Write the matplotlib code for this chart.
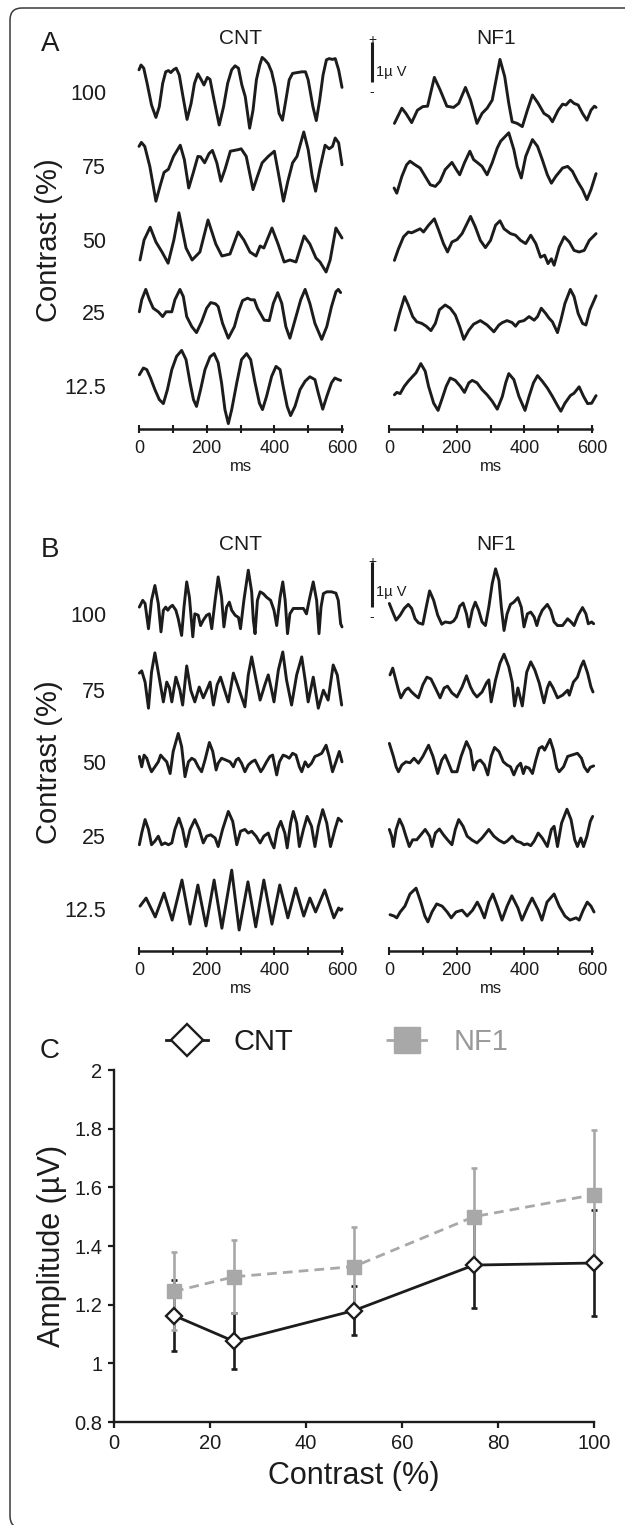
import matplotlib
matplotlib.use('Agg')
import matplotlib.pyplot as plt
from matplotlib.patches import FancyBboxPatch

plt.rcParams['font.family'] = ['Liberation Sans', 'DejaVu Sans']

# ---------------- data ----------------
row_labels = ['100', '75', '50', '25', '12.5']
tick_vals = [0, 200, 400, 600]
minor_ticks = [100, 300, 500]

# Panel A, CNT (time in ms, amplitude in microvolts relative to row baseline)
a_cnt_100_t = [0,6,14,24,37,50,60,70,79,87,94,102,110,119,130,142,154,164,174,184,192,202,210,222,237,250,262,274,284,294,304,314,327,337,347,357,364,372,382,392,402,414,424,434,444,454,467,482,492,500,514,524,534,544,554,562,572,580,590,600]
a_cnt_100_v = [0.63,0.75,0.67,0.29,-0.25,-0.56,-0.29,0.29,0.58,0.61,0.56,0.63,0.67,0.50,-0.04,-0.61,-0.21,0.29,0.53,0.38,0.25,0.44,0.39,-0.13,-0.75,-0.29,0.29,0.63,0.73,0.67,0.25,-0.04,-0.83,-0.38,0.38,0.75,0.94,0.88,0.78,0.58,0.21,-0.46,-0.63,-0.13,0.38,0.54,0.56,0.58,0.58,0.38,-0.29,-0.64,-0.13,0.50,0.88,0.91,0.89,0.91,0.63,0.19]
a_cnt_75_t = [0,7,17,32,50,62,74,87,102,122,134,147,160,174,182,194,207,217,230,242,254,270,282,294,302,317,337,350,364,382,400,412,427,440,454,467,487,500,512,522,534,550,562,572,580,590,600]
a_cnt_75_v = [0.54,0.64,0.54,0.04,-0.83,-0.46,-0.11,-0.03,0.29,0.57,0.21,-0.50,-0.13,0.29,0.28,0.13,0.36,0.44,0.13,-0.33,-0.04,0.42,0.44,0.46,0.48,0.29,-0.54,-0.21,0.13,0.29,0.42,-0.13,-0.83,-0.33,0.13,0.29,0.90,0.46,-0.21,-0.58,-0.04,0.57,0.48,0.54,0.75,0.63,0.08]
a_cnt_50_t = [3,15,33,50,68,86,103,118,139,157,180,204,227,245,269,293,310,328,346,358,369,393,411,429,446,464,488,505,523,535,553,565,582,600]
a_cnt_50_v = [-0.45,0.05,0.37,0.00,-0.25,-0.53,0.05,0.73,-0.15,-0.45,-0.25,0.55,-0.05,-0.35,-0.30,0.25,0.05,-0.25,-0.35,-0.10,-0.15,0.35,-0.05,-0.50,-0.45,-0.50,0.15,-0.05,-0.40,-0.50,-0.75,-0.45,0.35,0.10]
a_cnt_25_t = [1,8,20,31,42,57,70,80,87,97,106,121,131,141,156,170,185,200,212,226,234,247,264,282,294,306,321,331,341,350,370,385,397,410,422,434,446,461,478,491,505,520,540,555,569,582,589,596]
a_cnt_25_v = [0.08,0.38,0.64,0.38,0.17,0.08,-0.04,0.08,0.08,0.08,0.38,0.64,0.46,-0.04,-0.29,-0.44,-0.17,0.17,0.31,0.28,0.21,-0.21,-0.58,-0.29,0.08,0.36,0.42,0.38,0.38,0.17,-0.13,-0.14,0.29,0.56,0.29,-0.29,-0.58,-0.13,0.38,0.64,0.29,-0.21,-0.61,-0.29,0.21,0.58,0.64,0.56]
a_cnt_12_t = [1,13,23,34,47,60,72,84,97,111,126,139,151,161,170,182,195,210,222,234,244,254,264,274,289,303,318,330,343,356,365,377,392,405,417,426,438,448,461,476,491,505,520,530,543,555,569,579,589,596]
a_cnt_12_v = [0.33,0.50,0.46,0.25,-0.04,-0.29,-0.39,-0.04,0.46,0.79,0.94,0.71,0.13,-0.29,-0.46,-0.04,0.46,0.78,0.86,0.63,0.13,-0.54,-0.89,-0.54,0.13,0.71,0.86,0.71,0.13,-0.38,-0.54,-0.21,0.29,0.54,0.46,0.04,-0.46,-0.69,-0.46,-0.04,0.17,0.28,0.21,-0.13,-0.53,-0.21,0.13,0.25,0.21,0.19]

# Panel A, NF1
a_nf1_100_t = [16,38,50,67,84,100,114,134,151,171,191,206,226,241,260,275,290,305,328,342,354,364,379,394,409,424,441,458,473,483,500,513,523,536,547,559,572,585,597,607,612]
a_nf1_100_v = [-0.71,-0.33,-0.46,-0.69,-0.38,-0.29,-0.28,0.44,0.13,-0.28,-0.31,-0.21,0.19,-0.13,-0.71,-0.46,-0.33,-0.13,0.89,0.46,-0.21,-0.67,-0.71,-0.79,-0.38,0.00,-0.21,-0.46,-0.54,-0.67,-0.38,-0.23,-0.25,-0.13,-0.21,-0.25,-0.46,-0.63,-0.38,-0.28,-0.31]
a_nf1_75_t = [15,23,38,52,62,77,92,107,122,137,151,166,186,199,209,223,239,250,262,275,290,305,320,330,354,369,379,391,404,424,439,453,468,480,493,513,528,542,557,572,585,597,612]
a_nf1_75_v = [-0.50,-0.63,-0.21,0.08,0.17,0.08,0.00,-0.21,-0.42,-0.46,-0.33,-0.04,0.14,-0.04,-0.17,0.13,0.42,0.21,0.13,0.04,-0.17,0.13,0.50,0.67,0.88,0.46,0.04,-0.25,0.29,0.71,0.54,0.21,-0.17,-0.38,-0.21,0.00,0.04,-0.08,-0.33,-0.54,-0.79,-0.54,-0.14]
a_nf1_50_t = [16,28,43,57,67,82,92,102,117,134,147,161,173,186,201,216,241,255,270,285,300,315,328,340,359,374,389,404,419,434,448,460,470,480,488,503,518,533,547,562,577,592,612]
a_nf1_50_v = [-0.46,-0.17,0.13,0.25,0.23,0.29,0.33,0.25,0.42,0.58,0.29,-0.04,-0.25,0.00,0.06,0.21,0.64,0.38,0.04,-0.14,0.04,0.42,0.53,0.33,0.21,0.17,0.04,-0.04,0.17,-0.04,-0.38,-0.33,-0.54,-0.42,-0.58,-0.13,0.13,0.00,-0.21,-0.25,-0.21,0.04,0.21]
a_nf1_25_t = [18,31,46,57,70,82,97,110,124,137,149,166,181,196,209,221,236,250,270,290,310,325,335,349,364,374,384,399,414,429,439,450,463,473,483,498,508,520,536,547,559,572,582,594,612]
a_nf1_25_v = [-0.38,0.04,0.46,0.25,-0.04,-0.17,-0.21,-0.28,-0.39,-0.21,0.13,0.25,0.17,0.00,-0.29,-0.61,-0.38,-0.23,-0.14,-0.25,-0.42,-0.25,-0.19,-0.14,-0.19,-0.28,-0.17,-0.14,-0.04,-0.13,-0.04,0.17,0.04,-0.08,-0.17,-0.44,-0.13,0.29,0.64,0.46,0.04,-0.21,-0.25,0.13,0.48]
a_nf1_12_t = [16,23,33,45,57,70,80,94,107,117,132,145,156,169,181,196,211,223,236,246,260,275,290,305,320,335,345,354,369,384,402,414,427,439,453,468,483,498,508,520,536,547,562,575,587,599,612]
a_nf1_12_v = [-0.17,-0.11,-0.14,0.04,0.17,0.29,0.38,0.61,0.42,0.04,-0.38,-0.56,-0.29,0.04,0.25,0.19,0.04,-0.11,0.13,0.19,0.13,-0.04,-0.17,-0.33,-0.53,-0.21,0.13,0.36,0.21,-0.21,-0.56,-0.21,0.13,0.31,0.17,0.00,-0.21,-0.44,-0.58,-0.38,-0.19,-0.13,0.03,-0.21,-0.39,-0.38,-0.19]

# Panel B, CNT
b_cnt_100_t = [1,11,18,28,37,47,57,65,72,79,85,92,99,109,116,126,133,141,149,159,165,175,182,190,200,208,215,225,234,244,251,259,267,274,284,294,300,310,323,333,338,343,350,358,367,377,389,399,407,417,425,432,439,446,456,471,486,495,503,515,525,532,538,545,555,569,582,589,596,600]
b_cnt_100_v = [0.22,0.37,0.30,-0.26,0.37,0.70,0.30,-0.33,0.15,0.22,0.15,0.22,0.26,0.15,-0.04,-0.41,0.22,0.78,0.44,-0.44,0.07,0.04,-0.19,-0.07,0.04,0.07,-0.26,0.37,0.89,0.44,-0.22,0.22,0.33,0.15,0.04,-0.01,-0.26,0.37,1.04,0.56,-0.07,-0.37,0.37,0.56,0.52,0.44,0.37,0.15,-0.19,0.44,0.78,0.37,-0.37,0.07,0.19,0.19,0.19,0.07,0.37,0.78,0.37,-0.37,0.22,0.52,0.56,0.56,0.53,0.37,-0.15,-0.22]
b_cnt_75_t = [1,8,18,28,37,47,60,72,82,90,97,109,121,129,141,153,165,178,190,200,210,220,231,241,253,264,279,291,298,313,323,333,346,358,372,382,392,399,412,425,436,451,466,481,491,500,515,530,545,559,574,586,599]
b_cnt_75_v = [0.42,0.47,0.22,-0.36,0.44,0.87,0.31,-0.22,0.22,0.09,-0.22,0.33,0.04,-0.29,0.58,0.04,-0.22,0.11,-0.13,0.04,0.22,-0.29,0.16,0.33,0.04,-0.22,0.42,0.16,0.00,-0.33,0.38,0.78,0.27,-0.18,0.16,0.38,0.04,-0.22,0.49,0.89,0.27,-0.29,0.38,0.78,0.27,-0.22,0.33,-0.36,0.04,-0.18,0.60,0.38,-0.29]
b_cnt_50_t = [1,8,15,23,31,37,47,57,64,72,82,92,101,116,126,136,146,156,165,175,185,195,208,218,228,234,244,257,269,279,287,294,303,313,323,333,343,353,360,367,377,387,395,407,415,426,436,444,454,464,474,481,491,500,510,520,530,540,553,562,572,582,592,600]
b_cnt_50_v = [0.19,-0.04,0.22,0.15,-0.04,-0.15,-0.04,0.07,0.22,0.15,0.07,-0.19,0.30,0.70,0.41,-0.26,0.07,0.15,0.11,-0.04,-0.15,0.11,0.50,0.30,-0.11,0.04,0.15,0.11,0.07,-0.04,0.11,0.15,0.04,-0.15,0.00,0.07,0.11,-0.04,-0.15,-0.07,0.07,0.19,0.22,-0.22,0.07,0.22,0.19,0.15,0.26,0.22,-0.04,-0.15,0.07,-0.04,0.04,0.19,0.22,0.26,0.44,0.19,-0.15,0.07,0.30,0.07]
b_cnt_25_t = [1,8,18,28,37,47,57,67,77,87,97,106,118,129,139,151,165,178,190,200,212,225,234,247,264,277,289,300,313,323,333,346,358,369,382,392,399,409,419,431,438,448,456,466,474,486,497,510,520,530,543,555,566,579,589,599]
b_cnt_25_v = [-0.15,0.11,0.41,0.19,-0.15,-0.07,0.04,-0.15,-0.11,-0.15,-0.11,0.19,0.44,0.19,-0.19,0.19,0.41,0.19,-0.11,0.04,0.07,0.00,-0.19,0.19,0.59,0.37,-0.15,0.15,0.19,0.11,0.15,0.04,-0.11,0.04,0.11,-0.11,-0.22,0.19,0.37,0.11,-0.22,0.33,0.59,0.33,-0.19,0.19,0.48,0.26,-0.19,0.26,0.63,0.33,-0.19,0.19,0.44,0.37]
b_cnt_12_t = [3,21,48,74,98,127,151,174,198,222,245,274,296,322,345,369,393,416,440,463,487,505,522,549,576,590,596,600]
b_cnt_12_v = [0.13,0.31,-0.11,0.42,-0.18,0.71,-0.27,0.60,-0.31,0.71,-0.36,0.93,-0.40,0.67,-0.33,0.71,-0.27,0.60,-0.13,0.53,-0.09,0.31,0.00,0.49,-0.13,0.09,0.04,0.07]

# Panel B, NF1
b_nf1_100_t = [1,11,21,33,45,57,67,77,87,100,110,120,132,144,156,166,181,191,199,209,219,229,236,246,255,265,275,285,295,305,315,325,332,340,349,359,369,381,391,399,409,419,429,437,444,453,468,478,488,498,513,528,538,547,559,572,582,589,599,605]
b_nf1_100_v = [0.30,0.11,-0.07,0.04,0.19,0.28,0.19,-0.04,-0.13,-0.16,0.22,0.58,0.37,0.04,-0.16,-0.11,-0.13,-0.09,0.00,0.24,0.31,0.07,-0.22,0.15,0.33,0.15,-0.11,-0.19,0.22,0.74,1.07,0.81,0.22,-0.30,0.07,0.28,0.33,0.43,0.22,-0.22,0.07,0.11,0.00,-0.19,0.00,0.15,0.28,0.15,-0.11,-0.19,-0.19,-0.04,-0.11,-0.19,0.04,0.21,0.07,-0.15,-0.11,-0.15]
b_nf1_75_t = [3,11,18,28,35,48,57,67,77,87,100,112,124,137,151,163,173,186,201,216,229,241,250,260,275,288,295,302,315,328,340,354,364,371,381,394,407,419,431,444,458,468,475,485,498,513,528,533,545,557,567,575,587,597,603]
b_nf1_75_v = [0.38,0.53,0.33,0.04,-0.13,0.04,0.09,0.00,-0.07,-0.13,0.16,0.33,0.29,0.09,-0.13,0.09,0.13,-0.02,-0.11,0.11,0.36,0.11,-0.02,-0.11,0.00,0.20,0.27,-0.22,0.27,0.64,0.84,0.56,0.22,-0.31,0.09,-0.31,0.44,0.67,0.49,0.20,-0.24,0.09,0.22,0.09,-0.13,-0.07,0.04,-0.07,0.22,0.33,0.56,0.69,0.42,0.11,0.00]
b_nf1_50_t = [1,13,21,28,38,50,62,74,87,100,117,130,144,156,166,176,186,201,213,229,241,250,260,270,282,292,302,312,325,338,349,359,369,379,389,397,404,414,424,434,444,453,460,476,486,496,503,516,528,540,557,569,577,587,595,605]
b_nf1_50_v = [0.48,0.19,-0.04,-0.15,0.00,0.07,0.05,0.15,0.04,0.19,0.44,0.19,-0.19,0.11,0.22,0.04,-0.15,-0.15,0.19,0.52,0.33,-0.11,0.07,0.11,0.00,-0.22,0.19,0.39,0.30,0.07,0.00,-0.04,-0.22,-0.04,0.04,-0.19,-0.04,-0.07,-0.19,0.11,0.37,0.41,0.33,0.57,0.33,-0.07,-0.15,-0.04,0.19,0.22,0.26,0.15,-0.04,-0.15,-0.05,-0.02]
b_nf1_25_t = [1,8,13,21,31,41,50,60,70,82,94,107,120,127,137,149,161,173,186,196,206,219,231,246,260,275,295,310,325,340,349,364,377,389,399,409,419,429,441,453,468,480,488,498,510,526,538,549,557,567,575,585,595,602]
b_nf1_25_v = [0.19,0.04,-0.19,0.19,0.42,0.26,0.04,-0.19,-0.04,-0.04,0.07,0.19,0.04,-0.19,0.11,0.20,0.07,-0.04,-0.15,0.19,0.41,0.26,0.04,-0.05,-0.11,0.00,0.19,0.04,-0.05,-0.11,-0.07,0.04,-0.07,-0.10,-0.15,-0.13,-0.17,-0.07,0.11,0.00,-0.19,0.19,0.26,-0.19,0.33,0.64,0.41,-0.04,-0.19,0.00,-0.19,0.04,0.37,0.48]
b_nf1_12_t = [3,15,23,33,47,62,80,94,106,115,127,141,157,172,184,198,216,231,247,261,270,282,295,307,322,334,349,363,381,393,411,423,441,452,467,488,503,520,535,553,562,574,586,597,606]
b_nf1_12_v = [-0.06,-0.09,-0.13,0.00,0.13,0.40,0.53,0.22,-0.09,-0.22,0.00,0.18,0.13,0.00,-0.13,0.00,0.04,-0.09,0.04,0.22,0.09,-0.13,0.22,0.40,0.09,-0.18,0.13,0.36,0.09,-0.18,0.13,0.31,0.04,-0.18,0.22,0.40,0.13,-0.09,-0.18,-0.13,-0.18,0.04,0.22,0.13,0.00]

# Panel C
contrast = [12.5, 25, 50, 75, 100]
cnt_amp = [1.163, 1.075, 1.18, 1.335, 1.342]
cnt_err = [0.12, 0.095, 0.085, 0.145, 0.182]
nf1_amp = [1.245, 1.295, 1.33, 1.50, 1.575]
nf1_err = [0.133, 0.125, 0.135, 0.165, 0.222]
c_xticks = [0, 20, 40, 60, 80, 100]
c_yticks = [0.8, 1.0, 1.2, 1.4, 1.6, 1.8, 2.0]
c_yticklabels = ['0.8', '1', '1.2', '1.4', '1.6', '1.8', '2']

# ---------------- figure ----------------
W, H = 625, 1525
fig = plt.figure(figsize=(W / 100, H / 100), dpi=100)
INK = '#1c1c1c'
GRAY = '#a8a8a8'


def fx(px):
    return px / W


def fy(py):
    return 1 - py / H


def add_ax(left, top, right, bottom):
    return fig.add_axes([left / W, 1 - bottom / H, (right - left) / W, (bottom - top) / H])


frame = FancyBboxPatch((0.10, -0.03), 7.0, 15.20, boxstyle='round,pad=0,rounding_size=0.12',
                       transform=fig.dpi_scale_trans, fill=False, lw=1.1, ec='#3a3a3a')
fig.add_artist(frame)


def trace_axes(left, right, top, axis_y, scale):
    ax = add_ax(left, top, right, axis_y)
    ax.set_xlim(0, 600)
    ax.set_ylim(0, (axis_y - top) / scale)
    for s in ['top', 'left', 'right']:
        ax.spines[s].set_visible(False)
    ax.spines['bottom'].set_linewidth(1.8)
    ax.spines['bottom'].set_color(INK)
    ax.set_xticks(tick_vals)
    ax.set_xticklabels([str(v) for v in tick_vals])
    ax.set_xticks(minor_ticks, minor=True)
    ax.tick_params(axis='x', which='both', direction='inout', length=6, width=1.5, colors=INK,
                   labelsize=13, pad=5)
    ax.set_yticks([])
    ax.patch.set_alpha(0)
    return ax


def draw_rows(ax, traces, rows_py, axis_y, scale):
    for (t, v), py in zip(traces, rows_py):
        off = (axis_y - py) / scale
        ax.plot(t, [val + off for val in v], color=INK, lw=2.1, clip_on=False,
                solid_joinstyle='round', solid_capstyle='round')


def panel(letter, letter_py, title_py, rows_py, axis_y, top, scale, cnt_traces, nf1_traces,
          bar_py, plus_py, minus_py, uv_py, ylabel_py):
    ax1 = trace_axes(139, 342, top, axis_y, scale)
    ax2 = trace_axes(389, 592, top, axis_y, scale)
    draw_rows(ax1, cnt_traces, rows_py, axis_y, scale)
    draw_rows(ax2, nf1_traces, rows_py, axis_y, scale)
    # scale bar 1 uV
    bx = (372 - 389) * 600 / 203
    y0 = (axis_y - bar_py) / scale
    ax2.plot([bx, bx], [y0, y0 + 1], color=INK, lw=2.2, clip_on=False, solid_capstyle='butt')
    fig.text(fx(372), fy(plus_py), '+', ha='center', va='center', fontsize=10, color=INK)
    fig.text(fx(372), fy(minus_py), '-', ha='center', va='center', fontsize=10, color=INK)
    fig.text(fx(376), fy(uv_py), '1\u00b5 V', ha='left', va='center', fontsize=10.5, color=INK)
    # labels
    fig.text(fx(50), fy(letter_py), letter, ha='center', va='center', fontsize=20, color=INK)
    fig.text(fx(240.5), fy(title_py), 'CNT', ha='center', va='center', fontsize=15, color=INK)
    fig.text(fx(496), fy(title_py), 'NF1', ha='center', va='center', fontsize=15, color=INK)
    for lab, py in zip(row_labels, rows_py):
        fig.text(fx(106), fy(py), lab, ha='right', va='center', fontsize=15.5, color=INK)
    fig.text(fx(49), fy(ylabel_py), 'Contrast (%)', rotation=90, ha='center', va='center',
             fontsize=21, color=INK)
    fig.text(fx(240.5), fy(axis_y + 38), 'ms', ha='center', va='center', fontsize=12, color=INK)
    fig.text(fx(490.5), fy(axis_y + 38), 'ms', ha='center', va='center', fontsize=12, color=INK)


panel('A', 44, 39, [95, 168, 242, 315, 388], 429, 20, 40,
      [(a_cnt_100_t, a_cnt_100_v), (a_cnt_75_t, a_cnt_75_v), (a_cnt_50_t, a_cnt_50_v),
       (a_cnt_25_t, a_cnt_25_v), (a_cnt_12_t, a_cnt_12_v)],
      [(a_nf1_100_t, a_nf1_100_v), (a_nf1_75_t, a_nf1_75_v), (a_nf1_50_t, a_nf1_50_v),
       (a_nf1_25_t, a_nf1_25_v), (a_nf1_12_t, a_nf1_12_v)],
      82, 40, 92, 72, 240)

panel('B', 550, 545, [617, 692, 765, 838, 912], 951, 530, 45,
      [(b_cnt_100_t, b_cnt_100_v), (b_cnt_75_t, b_cnt_75_v), (b_cnt_50_t, b_cnt_50_v),
       (b_cnt_25_t, b_cnt_25_v), (b_cnt_12_t, b_cnt_12_v)],
      [(b_nf1_100_t, b_nf1_100_v), (b_nf1_75_t, b_nf1_75_v), (b_nf1_50_t, b_nf1_50_v),
       (b_nf1_25_t, b_nf1_25_v), (b_nf1_12_t, b_nf1_12_v)],
      607, 562, 617, 592, 762)

# ---------------- panel C ----------------
axC = add_ax(114, 1070, 594, 1422)
axC.set_xlim(0, 100)
axC.set_ylim(0.8, 2.0)
eb1 = axC.errorbar(contrast, cnt_amp, yerr=cnt_err, fmt='none', ecolor=INK, elinewidth=1.9,
                   capsize=2.5, capthick=1.9, zorder=2)
eb2 = axC.errorbar(contrast, nf1_amp, yerr=nf1_err, fmt='none', ecolor=GRAY, elinewidth=1.9,
                   capsize=2.5, capthick=1.9, zorder=3)
for eb in (eb1, eb2):
    for art in eb.lines[1]:
        art.set_clip_on(False)
    for art in eb.lines[2]:
        art.set_clip_on(False)
nf1_line, = axC.plot(contrast, nf1_amp, linestyle=(0, (3.5, 2.2)), color=GRAY, lw=2.0,
                     marker='s', ms=9.4, mfc=GRAY, mec=GRAY, zorder=4, label='NF1',
                     clip_on=False)
cnt_line, = axC.plot(contrast, cnt_amp, '-', color=INK, lw=2.0, marker='D', ms=8,
                     mfc='white', mec=INK, mew=1.7, zorder=5, label='CNT', clip_on=False)
for s in ['top', 'right']:
    axC.spines[s].set_visible(False)
for s in ['left', 'bottom']:
    axC.spines[s].set_linewidth(1.7)
    axC.spines[s].set_color(INK)
axC.set_xticks(c_xticks)
axC.set_xticklabels([str(v) for v in c_xticks])
axC.set_yticks(c_yticks)
axC.set_yticklabels(c_yticklabels)
axC.tick_params(direction='out', length=4.5, width=1.6, colors=INK, labelsize=14.5, pad=4)
fig.text(fx(354), fy(1476), 'Contrast (%)', ha='center', va='center', fontsize=22, color=INK)
fig.text(fx(52), fy(1246), 'Amplitude (\u00b5V)', rotation=90, ha='center', va='center',
         fontsize=22, color=INK)
fig.text(fx(50), fy(1051), 'C', ha='center', va='center', fontsize=20, color=INK)

axC.legend(handles=[cnt_line, nf1_line], labels=['CNT', 'NF1'], ncol=2, loc='center left',
           bbox_to_anchor=(fx(166), fy(1042)), bbox_transform=fig.transFigure, frameon=False,
           fontsize=21, handlelength=1.45, handletextpad=0.85, columnspacing=3.2, markerscale=2,
           borderpad=0, borderaxespad=0, labelcolor=[INK, '#999999'])

fig.savefig('out.png', dpi=100)
